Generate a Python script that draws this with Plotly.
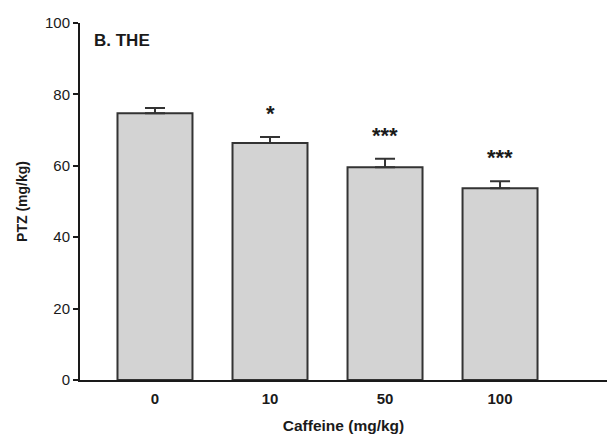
import plotly.graph_objects as go

categories = ["0", "10", "50", "100"]
ptz_mean = [74.7, 66.4, 59.6, 53.7]
ptz_sem = [1.5, 1.7, 2.4, 2.0]
significance = ["", "*", "***", "***"]

FONT = "Liberation Sans, Arial, sans-serif"
DARK = "#1a1a1a"

fig = go.Figure()
fig.add_trace(go.Bar(
    x=categories,
    y=ptz_mean,
    width=0.652,
    marker=dict(color="#d3d3d3", line=dict(color="#333333", width=2)),
    error_y=dict(type="data", array=ptz_sem, arrayminus=[0] * len(ptz_sem),
                 symmetric=False, color="#333333", thickness=2, width=10),
    showlegend=False,
    hoverinfo="skip",
))

for i, (m, s, sig) in enumerate(zip(ptz_mean, ptz_sem, significance)):
    if sig:
        fig.add_annotation(x=i, y=m + s, text="<b>" + sig + "</b>", showarrow=False,
                           yanchor="bottom", yshift=9,
                           font=dict(family=FONT, size=22, color=DARK))

fig.add_annotation(xref="paper", yref="paper", x=0.0228, y=0.952,
                   xanchor="left", yanchor="middle", text="<b>B. THE</b>",
                   showarrow=False, font=dict(family=FONT, size=17, color=DARK))

fig.update_layout(
    width=607, height=437,
    margin=dict(l=80, r=0, t=23, b=57),
    paper_bgcolor="white", plot_bgcolor="white",
    font=dict(family=FONT, color=DARK),
    xaxis=dict(
        type="category",
        range=[-0.652, 3.93],
        automargin=False,
        showline=True, linecolor=DARK, linewidth=2,
        ticks="outside", ticklen=4, tickcolor="rgba(0,0,0,0)",
        tickfont=dict(family=FONT, size=15, color=DARK),
        tickprefix="<b>", ticksuffix="</b>",
        title=dict(text="<b>Caffeine (mg/kg)</b>", standoff=14,
                   font=dict(family=FONT, size=15.5, color=DARK)),
        showgrid=False, zeroline=False,
    ),
    yaxis=dict(
        range=[0, 100],
        tickvals=[0, 20, 40, 60, 80, 100],
        automargin=False,
        showline=True, linecolor=DARK, linewidth=2,
        ticks="outside", ticklen=5, tickwidth=2, tickcolor=DARK,
        tickfont=dict(family=FONT, size=15, color=DARK),
        tickprefix="<b>", ticksuffix="</b>",
        title=dict(text="<b>PTZ (mg/kg)</b>", standoff=14,
                   font=dict(family=FONT, size=14, color=DARK)),
        showgrid=False, zeroline=False,
    ),
)

fig.write_html("out.html", config={"displayModeBar": False},
               post_script="document.body.style.margin='0';")
